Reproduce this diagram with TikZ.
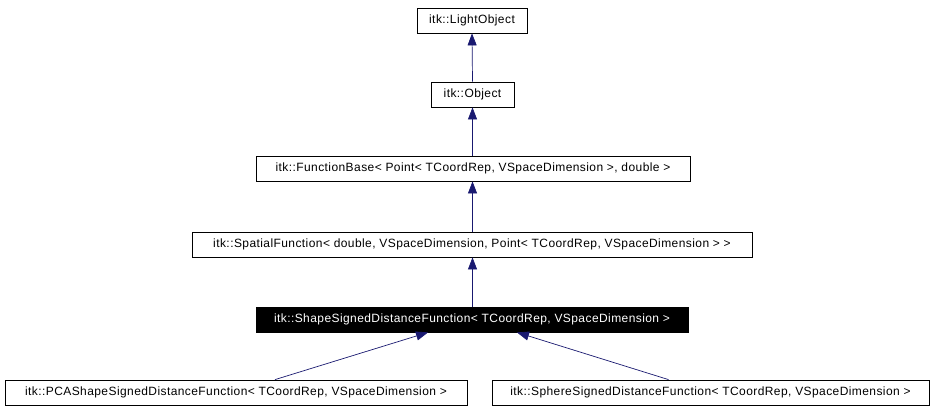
\documentclass[tikz,border=0pt]{standalone}
\usepackage{fontspec}
\setmainfont{Liberation Sans}
\newfontfamily\clsfont[LetterSpace=3.5]{Liberation Sans}
\usetikzlibrary{arrows.meta}

\begin{document}
\begin{tikzpicture}[x=1pt,y=-1pt,
    cls/.style={draw=black,line width=0.8pt,fill=white,inner sep=0pt,minimum height=25pt,font=\clsfont\fontsize{12}{14}\selectfont},
    curcls/.style={cls,fill=black,text=white},
    inherit/.style={draw={rgb,255:red,25;green,25;blue,112},line width=0.7pt,-{Triangle[length=12pt,width=9pt]}}]
                \useasboundingbox (0,0) rectangle (933,411);
                \node [cls,minimum width=110pt] (light) at (472,20.5) {itk::LightObject};
                \node [cls,minimum width=83pt] (obj) at (472.5,94.5) {itk::Object};
                \node [cls,minimum width=434pt] (fbase) at (473,168.5) {itk::FunctionBase< Point< TCoordRep, VSpaceDimension >, double >};
                \node [cls,minimum width=560pt] (spatial) at (472,244.5) {itk::SpatialFunction< double, VSpaceDimension, Point< TCoordRep, VSpaceDimension > >};
                \node [curcls,minimum width=432pt] (shape) at (472,319.5) {itk::ShapeSignedDistanceFunction< TCoordRep, VSpaceDimension >};
                \node [cls,minimum width=462pt] (pca) at (236,392.5) {itk::PCAShapeSignedDistanceFunction< TCoordRep, VSpaceDimension >};
                \node [cls,minimum width=437pt] (sphere) at (710.5,392.5) {itk::SphereSignedDistanceFunction< TCoordRep, VSpaceDimension >};
                \draw [inherit] (obj.north) -- (light.south);
                \draw [inherit] (fbase.north -| obj.north) -- (obj.south);
                \draw [inherit] (spatial.north -| obj.north) -- (fbase.south -| obj.north);
                \draw [inherit] (shape.north -| obj.north) -- (spatial.south -| obj.north);
                \draw [inherit] ([xshift=39pt]pca.north) -- ([xshift=-44pt]shape.south);
                \draw [inherit] ([xshift=-42pt]sphere.north) -- ([xshift=45pt]shape.south);
            \end{tikzpicture}
\end{document}
